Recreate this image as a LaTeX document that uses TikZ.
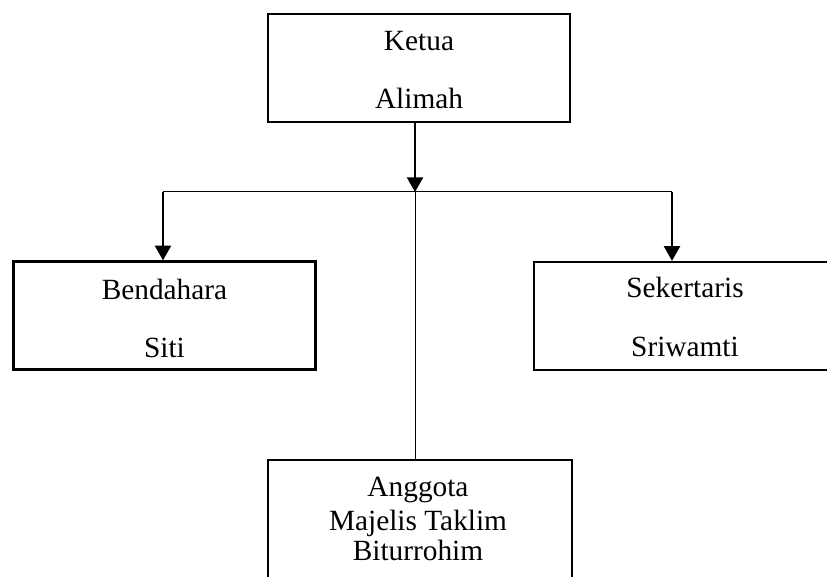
\documentclass[tikz,border=0pt]{standalone}
\usepackage{fontspec}
\setmainfont{Liberation Serif}
\usetikzlibrary{calc, arrows.meta}

\begin{document}
\begin{tikzpicture}[x=0.75pt,y=0.75pt,inner sep=0pt,>={Triangle[length=11pt,width=12pt]}]%,thin lines for the branches
\tikzset{box/.style={draw,line width=1.8pt,minimum width=226.5pt,minimum height=81pt},
         txt/.style={anchor=base,font=\fontsize{22}{26}\selectfont},
         arrowline/.style={->,line width=1.7pt},
         branch/.style={line width=0.75pt}}
\useasboundingbox (0,0) rectangle (827,-577);
\draw node [box] (ketua) at (419,-68) {};
\draw node [box] (bendahara) at (164.5,-315.5) {};
\draw node [box] (sekertaris) at (685,-316) {};
\draw node [box,minimum width=228pt,minimum height=97.5pt] (anggota) at (420,-525) {};
\draw node [txt] (ketuaA) at ($ (ketua.north) + (0,-38) $) {Ketua};
\draw node [txt] (ketuaB) at ($ (ketua.north) + (0,-96) $) {Alimah};
\draw node [txt] (bendaharaA) at ($ (bendahara.north) + (0,-39) $) {Bendahara};
\draw node [txt] (bendaharaB) at ($ (bendahara.north) + (0,-97) $) {Siti};
\draw node [txt] (sekertarisA) at ($ (sekertaris.north) + (0,-37) $) {Sekertaris};
\draw node [txt] (sekertarisB) at ($ (sekertaris.north) + (0,-96) $) {Sriwamti};
\draw node [txt] (anggotaA) at ($ (anggota.north) + (-2,-38) $) {Anggota};
\draw node [txt] (anggotaB) at ($ (anggota.north) + (-2,-72) $) {Majelis Taklim};
\draw node [txt] (anggotaC) at ($ (anggota.north) + (-2,-102) $) {Biturrohim};
\coordinate (hub) at (415,-192);
\coordinate (lt) at (163,-192);
\coordinate (rt) at (672,-192);
\draw [arrowline] (ketua.south -| hub) -- (hub);
\draw [branch] (lt) -- (rt);
\draw [branch] (hub) -- (hub |- anggota.north);
\draw [arrowline] (lt) -- (lt |- bendahara.north);
\draw [arrowline] (rt) -- (rt |- sekertaris.north);
\end{tikzpicture}
\end{document}
